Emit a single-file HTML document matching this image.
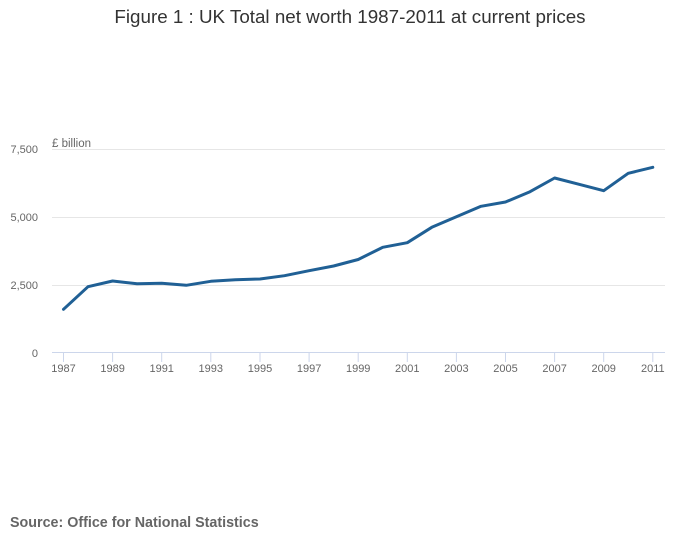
<!DOCTYPE html>
<html><head><meta charset="utf-8"><style>
body{margin:0;background:#fff;width:700px;height:549px;overflow:hidden;font-family:"Liberation Sans",sans-serif}
</style></head><body>
<svg width="700" height="549" xmlns="http://www.w3.org/2000/svg" font-family="Liberation Sans, sans-serif">
<text x="350" y="23" text-anchor="middle" font-size="18.8" fill="#333">Figure 1 : UK Total net worth 1987-2011 at current prices</text>
<text x="52" y="147" font-size="11.5" fill="#666">£ billion</text>
<g stroke="#e6e6e6" stroke-width="1">
<line x1="52" x2="665" y1="149.5" y2="149.5"/>
<line x1="52" x2="665" y1="217.5" y2="217.5"/>
<line x1="52" x2="665" y1="285.5" y2="285.5"/>
</g>
<line x1="52" x2="665" y1="352.5" y2="352.5" stroke="#ccd6eb"/>
<g fill="#666" font-size="11" text-anchor="end">
<text x="38" y="153">7,500</text><text x="38" y="221">5,000</text><text x="38" y="289">2,500</text><text x="38" y="357">0</text>
</g>
<g stroke="#ccd6eb">
<line x1="63.5" x2="63.5" y1="352" y2="362"/><line x1="112.6" x2="112.6" y1="352" y2="362"/><line x1="161.7" x2="161.7" y1="352" y2="362"/><line x1="210.8" x2="210.8" y1="352" y2="362"/><line x1="260" x2="260" y1="352" y2="362"/><line x1="309.1" x2="309.1" y1="352" y2="362"/><line x1="358.2" x2="358.2" y1="352" y2="362"/><line x1="407.3" x2="407.3" y1="352" y2="362"/><line x1="456.4" x2="456.4" y1="352" y2="362"/><line x1="505.5" x2="505.5" y1="352" y2="362"/><line x1="554.6" x2="554.6" y1="352" y2="362"/><line x1="603.7" x2="603.7" y1="352" y2="362"/><line x1="652.8" x2="652.8" y1="352" y2="362"/>
</g>
<g fill="#666" font-size="11" text-anchor="middle">
<text x="63.5" y="372">1987</text><text x="112.6" y="372">1989</text><text x="161.7" y="372">1991</text><text x="210.8" y="372">1993</text><text x="260" y="372">1995</text><text x="309.1" y="372">1997</text><text x="358.2" y="372">1999</text><text x="407.3" y="372">2001</text><text x="456.4" y="372">2003</text><text x="505.5" y="372">2005</text><text x="554.6" y="372">2007</text><text x="603.7" y="372">2009</text><text x="652.8" y="372">2011</text>
</g>
<polyline fill="none" stroke="#206095" stroke-width="3" stroke-linejoin="round" stroke-linecap="round" points="63.5,309.3 88,286.7 112.6,281 137.1,283.7 161.7,283.3 186.2,285.3 210.8,281.3 235.4,279.7 260,279 284.5,275.7 309.1,270.7 333.6,266 358.2,259.5 382.7,247.3 407.3,242.7 431.8,227.3 456.4,216.7 481,206.3 505.5,202 530,191.7 554.6,178 579.1,184.3 603.7,190.7 628.2,173.3 652.8,167.3"/>
<text x="10" y="527" font-size="14.3" font-weight="bold" fill="#666">Source: Office for National Statistics</text>
</svg>
</body></html>
